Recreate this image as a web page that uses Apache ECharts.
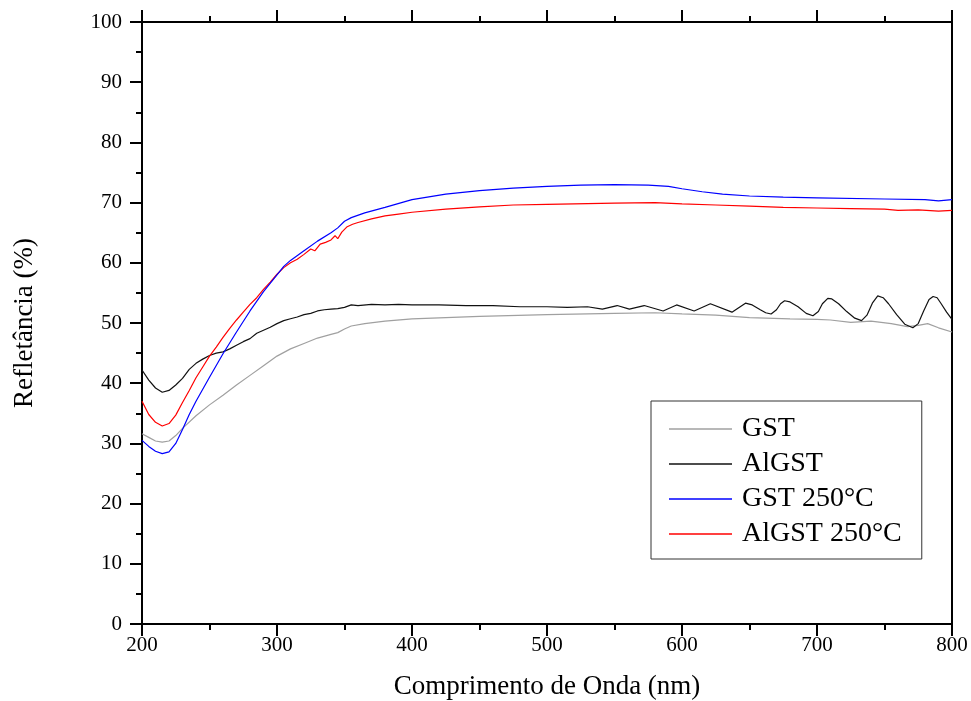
<!DOCTYPE html>
<html>
<head>
<meta charset="utf-8">
<script src="https://cdn.jsdelivr.net/npm/echarts@6/dist/echarts.min.js"></script>
<style>
html,body{margin:0;padding:0;background:#fff;}
#chart{width:971px;height:701px;}
</style>
</head>
<body>
<div id="chart"></div>
<script>
// ---- Data ----
const seriesNames = ['GST', 'AlGST', 'GST 250°C', 'AlGST 250°C'];
const xTicks = [200, 300, 400, 500, 600, 700, 800];
const yTicks = [0, 10, 20, 30, 40, 50, 60, 70, 80, 90, 100];

const gstX = [200,205,210,215,220,225,230,240,250,260,270,280,290,300,310,320,330,340,345,350,355,365,380,400,450,500,550,580,600,625,650,680,700,710,725,740,755,767,775,782,790,800];
const gstY = [31.6,31.0,30.4,30.2,30.4,31.3,32.5,34.6,36.4,38.0,39.7,41.3,42.9,44.5,45.7,46.6,47.5,48.1,48.4,49.0,49.5,49.9,50.3,50.7,51.1,51.4,51.6,51.7,51.5,51.3,50.9,50.7,50.6,50.5,50.1,50.3,49.9,49.4,49.6,49.9,49.2,48.5];

const algstX = [200,205,210,215,220,225,230,235,240,245,250,255,260,265,270,275,280,285,290,295,300,305,310,315,320,325,330,335,340,345,350,355,360,370,380,390,400,420,440,460,480,500,515,530,541,552,561,572,586,596,609,621,637,647,652,658,662,666,670,673,676,680,686,692,697,701,704,708,711,716,722,728,733,737,741,745,749,753,759,765,771,775,779,783,786,789,792,796,800];
const algstY = [42.2,40.5,39.2,38.5,38.8,39.7,40.8,42.3,43.3,44.0,44.6,45.0,45.2,45.7,46.3,46.9,47.4,48.3,48.8,49.3,49.9,50.4,50.7,51.0,51.4,51.6,52.0,52.2,52.3,52.4,52.6,53.0,52.9,53.1,53.0,53.1,53.0,53.0,52.9,52.9,52.7,52.7,52.6,52.7,52.3,52.9,52.3,52.9,52.0,53.0,52.0,53.2,51.8,53.3,53.0,52.2,51.7,51.5,52.2,53.2,53.7,53.5,52.7,51.6,51.2,51.9,53.2,54.1,54.0,53.2,51.9,50.8,50.4,51.3,53.3,54.5,54.2,53.2,51.4,49.8,49.2,49.9,52.0,53.9,54.4,54.2,53.2,51.8,50.6];

const gst250X = [200,205,210,215,220,225,230,235,240,250,260,270,280,290,300,305,310,320,330,340,345,350,355,365,380,400,425,450,475,500,525,550,575,590,600,615,630,650,675,700,750,780,790,800];
const gst250Y = [30.5,29.5,28.7,28.3,28.6,30.0,32.3,34.8,37.0,41.0,44.9,48.5,52.0,55.2,58.0,59.4,60.4,62.0,63.6,65.0,65.8,66.9,67.5,68.3,69.2,70.5,71.4,72.0,72.4,72.7,72.9,73.0,72.9,72.7,72.3,71.8,71.4,71.1,70.9,70.8,70.6,70.5,70.3,70.5];

const algst250X = [200,205,210,215,220,225,230,235,240,245,250,255,260,265,270,275,280,285,290,295,300,305,310,315,320,325,328,332,336,340,343,345,348,352,356,360,370,380,390,400,425,450,475,500,550,580,600,625,650,675,700,725,750,760,775,790,800];
const algst250Y = [37.0,34.8,33.5,32.9,33.3,34.7,36.8,38.8,40.9,42.7,44.5,46.0,47.6,49.1,50.5,51.8,53.1,54.2,55.6,56.8,58.1,59.2,60.0,60.6,61.4,62.3,62.0,63.1,63.4,63.8,64.5,64.0,65.1,66.0,66.4,66.7,67.3,67.8,68.1,68.4,68.9,69.3,69.6,69.7,69.9,70.0,69.8,69.6,69.4,69.2,69.1,69.0,68.9,68.7,68.8,68.6,68.7];

const colors = ['#a0a0a0', '#111111', '#0000ff', '#ff0000'];

// ---- Build ----
function pairs(xs, ys) { return xs.map((x, i) => [x, ys[i]]); }
const dataSets = [pairs(gstX, gstY), pairs(algstX, algstY), pairs(gst250X, gst250Y), pairs(algst250X, algst250Y)];

const FONT = '"Liberation Serif", "Times New Roman", serif';
const chart = echarts.init(document.getElementById('chart'), null, {renderer: 'canvas'});

const baseAxisLine = {show: true, onZero: false, lineStyle: {color: '#000', width: 2}};
const option = {
  backgroundColor: '#fff',
  animation: false,
  grid: {left: 142, right: 19, top: 22, bottom: 77, containLabel: false, outerBoundsMode: 'none'},
  legend: {
    left: 651, top: 401,
    orient: 'vertical',
    data: seriesNames,
    icon: 'rect',
    itemWidth: 63, itemHeight: 1.3,
    itemGap: 7,
    padding: [14, 20, 11, 18],
    borderColor: '#333', borderWidth: 1,
    backgroundColor: '#fff',
    textStyle: {fontFamily: FONT, fontSize: 28, color: '#000', padding: [0, 0, 0, 5]}
  },
  xAxis: [{
    type: 'value', position: 'bottom', min: 200, max: 800, interval: 100,
    name: 'Comprimento de Onda (nm)', nameLocation: 'middle', nameGap: 49,
    nameTextStyle: {fontFamily: FONT, fontSize: 27, color: '#000'},
    axisLine: baseAxisLine,
    axisTick: {show: true, inside: false, length: 12, lineStyle: {color: '#000', width: 2}},
    minorTick: {show: true, splitNumber: 2, length: 6, lineStyle: {color: '#000', width: 2}},
    axisLabel: {fontFamily: FONT, fontSize: 21, color: '#000', margin: 11,
      formatter: v => xTicks.includes(v) ? String(v) : ''},
    splitLine: {show: false}
  }, {
    type: 'value', position: 'top', min: 200, max: 800, interval: 100,
    axisLine: baseAxisLine,
    axisTick: {show: true, inside: false, length: 12, lineStyle: {color: '#000', width: 2}},
    minorTick: {show: true, splitNumber: 2, length: 6, lineStyle: {color: '#000', width: 2}},
    axisLabel: {show: false},
    splitLine: {show: false}
  }],
  yAxis: [{
    type: 'value', position: 'left', min: 0, max: 100, interval: 10,
    name: 'Refletância (%)', nameLocation: 'middle', nameGap: 104, nameRotate: 90,
    nameTextStyle: {fontFamily: FONT, fontSize: 27, color: '#000'},
    axisLine: baseAxisLine,
    axisTick: {show: true, inside: false, length: 12, lineStyle: {color: '#000', width: 2}},
    minorTick: {show: true, splitNumber: 2, length: 6, lineStyle: {color: '#000', width: 2}},
    axisLabel: {fontFamily: FONT, fontSize: 21, color: '#000', margin: 20,
      formatter: v => yTicks.includes(v) ? String(v) : ''},
    splitLine: {show: false}
  }, {
    type: 'value', position: 'right', min: 0, max: 100, interval: 10,
    axisLine: baseAxisLine,
    axisTick: {show: false},
    axisLabel: {show: false},
    splitLine: {show: false}
  }],
  series: seriesNames.map((name, i) => ({
    name: name,
    type: 'line',
    xAxisIndex: 0, yAxisIndex: 0,
    data: dataSets[i],
    symbol: 'none',
    showSymbol: false,
    smooth: false,
    color: colors[i],
    itemStyle: {color: colors[i]},
    lineStyle: {color: colors[i], width: 1.2},
    z: i === 2 ? 3 : 2
  }))
};
chart.setOption(option);
</script>
</body>
</html>
